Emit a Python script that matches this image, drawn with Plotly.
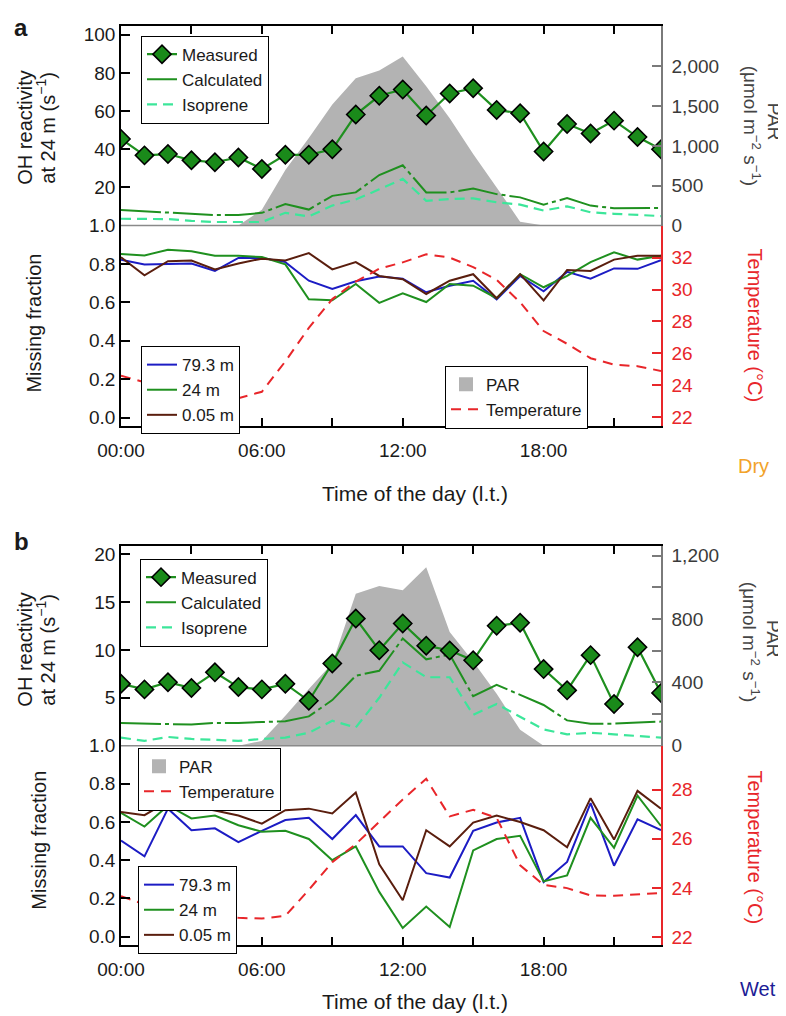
import plotly.graph_objects as go

# ---------------- data ----------------
hours = list(range(24))
x_tickvals = [0, 3, 6, 9, 12, 15, 18, 21]
x_ticktext = ["00:00", "", "06:00", "", "12:00", "", "18:00", ""]

# Panel a (dry season)
a_par = [0, 0, 0, 0, 0, 0, 200, 700, 1100, 1520, 1850, 1950, 2125, 1750, 1350, 900, 480, 50, 0, 0, 0, 0, 0, 0]
a_measured = [45.4, 36.8, 37.5, 34.2, 33.2, 35.7, 29.7, 37.1, 37.1, 40.0, 58.2, 68.0, 71.3, 57.7,
              69.2, 72.0, 60.6, 58.9, 38.8, 53.2, 48.3, 55.0, 46.4, 40.0]
a_calculated = [8.2, 7.5, 7.0, 6.2, 5.5, 5.5, 6.7, 11.3, 8.4, 15.6, 17.4, 26.5, 31.6, 17.4,
                17.4, 19.4, 16.5, 14.8, 11.0, 14.4, 10.5, 9.1, 9.1, 9.3]
a_isoprene = [3.6, 3.5, 3.4, 2.5, 1.9, 1.9, 1.9, 6.7, 4.8, 10.5, 13.7, 19.0, 24.5, 13.0,
              13.9, 14.3, 12.2, 11.0, 7.9, 10.1, 7.0, 6.2, 5.7, 5.0]
a_mf_793 = [0.823, 0.798, 0.800, 0.803, 0.764, 0.832, 0.832, 0.810, 0.713, 0.670, 0.710, 0.735,
            0.724, 0.653, 0.687, 0.713, 0.616, 0.738, 0.658, 0.759, 0.724, 0.777, 0.775, 0.820]
a_mf_24 = [0.852, 0.845, 0.874, 0.866, 0.843, 0.843, 0.836, 0.798, 0.616, 0.611, 0.696, 0.598,
           0.648, 0.602, 0.696, 0.687, 0.622, 0.747, 0.679, 0.738, 0.810, 0.861, 0.823, 0.843]
a_mf_005 = [0.835, 0.741, 0.815, 0.818, 0.772, 0.803, 0.828, 0.818, 0.857, 0.772, 0.810, 0.738,
            0.721, 0.644, 0.713, 0.747, 0.622, 0.747, 0.611, 0.769, 0.764, 0.823, 0.843, 0.843]
a_temp = [24.6, 24.2, 23.9, 23.6, 23.4, 23.2, 23.6, 25.5, 27.6, 29.4, 30.5, 31.3, 31.7, 32.2,
          32.0, 31.4, 30.6, 29.2, 27.4, 26.6, 25.7, 25.3, 25.2, 24.9]

# Panel b (wet season)
b_par = [0, 0, 0, 0, 0, 0, 30, 188, 357, 521, 960, 1008, 981, 1127, 717, 532, 327, 101, 0, 0, 0, 0, 0, 0]
b_measured = [6.46, 5.88, 6.63, 6.02, 7.66, 6.12, 5.88, 6.46, 4.69, 8.58, 13.28, 9.97, 12.77, 10.45,
              9.94, 8.92, 12.53, 12.84, 8.0, 5.78, 9.46, 4.35, 10.28, 5.51]
b_calculated = [2.37, 2.3, 2.28, 2.2, 2.37, 2.37, 2.47, 2.54, 3.06, 4.76, 7.31, 7.82, 11.2, 9.02,
                9.53, 5.16, 6.36, 5.27, 4.25, 2.64, 2.3, 2.3, 2.37, 2.51]
b_isoprene = [0.84, 0.5, 0.91, 0.7, 0.6, 0.5, 0.7, 0.84, 1.35, 2.6, 1.9, 5.0, 8.7, 7.15,
              7.15, 3.22, 4.35, 3.06, 1.69, 1.18, 1.35, 1.18, 1.01, 0.84]
b_mf_793 = [0.503, 0.42, 0.67, 0.557, 0.567, 0.494, 0.554, 0.61, 0.622, 0.511, 0.636, 0.472,
            0.472, 0.332, 0.309, 0.554, 0.597, 0.622, 0.286, 0.391, 0.699, 0.371, 0.614, 0.557]
b_mf_24 = [0.648, 0.576, 0.687, 0.619, 0.634, 0.583, 0.549, 0.554, 0.511, 0.4, 0.472, 0.234,
           0.045, 0.157, 0.05, 0.451, 0.511, 0.528, 0.289, 0.32, 0.622, 0.465, 0.738, 0.579]
b_mf_005 = [0.653, 0.636, 0.708, 0.682, 0.66, 0.634, 0.591, 0.662, 0.67, 0.645, 0.755, 0.378,
            0.19, 0.557, 0.472, 0.597, 0.634, 0.6, 0.557, 0.468, 0.725, 0.508, 0.763, 0.67]
b_temp = [23.66, 23.33, 23.1, 22.95, 22.85, 22.78, 22.75, 22.86, 23.92, 25.05, 25.78, 26.7, 27.6, 28.44,
          26.91, 27.18, 26.85, 24.92, 24.12, 23.99, 23.69, 23.68, 23.72, 23.79]

# ---------------- style ----------------
FONT = "Liberation Sans, Arial, Helvetica, sans-serif"
GREEN = "#1f901f"
MARK = "#1a8a1a"
ISO = "#3ce69a"
BLUE = "#1c1cc4"
BROWN = "#5a1e0e"
RED = "#e8262a"
GRAYFILL = "#b3b3b3"
PARAX = "#7a7a7a"
TXT = "#1a1a1a"

W, H = 786, 1016
ML, MR = 113, 133
PW = W - ML - MR


def px(x):
    return (x - ML) / PW


def py(y):
    return 1 - y / H


fig = go.Figure()


def add_panel(par, meas, calc, iso, m793, m24, m005, temp, ax, lg):
    fig.add_trace(go.Scatter(x=hours, y=par, name="PAR", mode="lines", fill="tozeroy",
                             fillcolor=GRAYFILL, line=dict(width=0, color=GRAYFILL),
                             showlegend=False, xaxis=ax["xt"], yaxis=ax["par"]))
    # legend entry for PAR (square swatch)
    fig.add_trace(go.Scatter(x=[None], y=[None], name="PAR", mode="markers",
                             marker=dict(symbol="square", size=14, color=GRAYFILL),
                             xaxis=ax["xt"], yaxis=ax["par"], legend=lg[2]))
    fig.add_trace(go.Scatter(x=hours, y=calc, name="Calculated", mode="lines",
                             line=dict(color=GREEN, width=2, dash="40px,4px,4px,4px"),
                             xaxis=ax["xt"], yaxis=ax["oh"], legend=lg[0], legendrank=2))
    fig.add_trace(go.Scatter(x=hours, y=iso, name="Isoprene", mode="lines",
                             line=dict(color=ISO, width=2.2, dash="10px,6px"),
                             xaxis=ax["xt"], yaxis=ax["oh"], legend=lg[0], legendrank=3))
    fig.add_trace(go.Scatter(x=hours, y=meas, name="Measured", mode="lines+markers",
                             line=dict(color=GREEN, width=2.2),
                             marker=dict(symbol="diamond", size=14, color=MARK,
                                         line=dict(color="black", width=1.6)),
                             xaxis=ax["xt"], yaxis=ax["oh"], legend=lg[0], legendrank=1))
    fig.add_trace(go.Scatter(x=hours, y=m793, name="79.3 m", mode="lines",
                             line=dict(color=BLUE, width=2), xaxis=ax["xb"], yaxis=ax["mf"], legend=lg[1]))
    fig.add_trace(go.Scatter(x=hours, y=m24, name="24 m", mode="lines",
                             line=dict(color=GREEN, width=2), xaxis=ax["xb"], yaxis=ax["mf"], legend=lg[1]))
    fig.add_trace(go.Scatter(x=hours, y=m005, name="0.05 m", mode="lines",
                             line=dict(color=BROWN, width=2), xaxis=ax["xb"], yaxis=ax["mf"], legend=lg[1]))
    fig.add_trace(go.Scatter(x=hours, y=temp, name="Temperature", mode="lines",
                             line=dict(color=RED, width=2, dash="10px,7px"),
                             xaxis=ax["xb"], yaxis=ax["tp"], legend=lg[2]))


add_panel(a_par, a_measured, a_calculated, a_isoprene, a_mf_793, a_mf_24, a_mf_005, a_temp,
          dict(xt="x", xb="x2", par="y", oh="y2", mf="y3", tp="y4"),
          ["legend", "legend2", "legend3"])
add_panel(b_par, b_measured, b_calculated, b_isoprene, b_mf_793, b_mf_24, b_mf_005, b_temp,
          dict(xt="x3", xb="x4", par="y5", oh="y6", mf="y7", tp="y8"),
          ["legend4", "legend5", "legend6"])

tickfont = dict(family=FONT, size=19, color=TXT)

a_top = [py(212), py(8.3)]
a_bot = [py(416.7), py(212)]
b_top = [py(743), py(539.3)]
b_bot = [py(946.7), py(743)]


def xtop(anchor):
    return dict(domain=[0, 1], anchor=anchor, side="top", range=[0, 23], tickvals=x_tickvals,
                showticklabels=False, ticks="inside", ticklen=8, tickwidth=1.5, tickcolor="black",
                showline=True, linecolor="black", linewidth=1.5, showgrid=False, zeroline=False)


def xbot(anchor):
    return dict(domain=[0, 1], anchor=anchor, side="bottom", range=[0, 23], tickvals=x_tickvals,
                ticktext=x_ticktext, ticks="inside", ticklen=8, tickwidth=1.5, tickcolor="black",
                showline=True, linecolor="black", linewidth=1.5, showgrid=False, zeroline=False,
                tickfont=tickfont, ticklabelstandoff=6)


def yleft(domain, anchor, rng, vals, text, overlay=None):
    d = dict(anchor=anchor, side="left", range=rng, tickvals=vals, ticktext=text,
             ticks="inside", ticklen=9, tickwidth=1.5, tickcolor="black",
             showline=True, linecolor="black", linewidth=1.5, showgrid=False, zeroline=False,
             tickfont=tickfont)
    if overlay:
        d["overlaying"] = overlay
    else:
        d["domain"] = domain
    return d


def yright(domain, anchor, rng, vals, text, color, lcolor, overlay=None):
    d = dict(anchor=anchor, side="right", range=rng, tickvals=vals, ticktext=text,
             ticks="inside", ticklen=9, tickwidth=1.5, tickcolor=lcolor,
             showline=True, linecolor=lcolor, linewidth=1.5, showgrid=False, zeroline=False,
             tickfont=dict(family=FONT, size=19, color=color), ticklabelstandoff=5)
    if overlay:
        d["overlaying"] = overlay
    else:
        d["domain"] = domain
    return d


mf_vals = [0, 0.2, 0.4, 0.6, 0.8, 1.0]
mf_text = ["0.0", "0.2", "0.4", "0.6", "0.8", "1.0"]

layout = dict(
    width=W, height=H, margin=dict(l=ML, r=MR, t=0, b=0),
    paper_bgcolor="white", plot_bgcolor="rgba(0,0,0,0)",
    font=dict(family=FONT, size=16, color=TXT),
    xaxis=xtop("y"), xaxis2=xbot("y3"), xaxis3=xtop("y5"), xaxis4=xbot("y7"),
    yaxis=yright(a_top, "x", [0, 2506], [0, 500, 1000, 1500, 2000],
                 ["0", "500", "1,000", "1,500", "2,000"], "#3a3a3a", PARAX),
    yaxis2=yleft(None, "x", [0, 104.5], [20, 40, 60, 80, 100], ["20", "40", "60", "80", "100"], overlay="y"),
    yaxis3=yleft(a_bot, "x2", [-0.044, 1.0], mf_vals, mf_text),
    yaxis4=yright(None, "x2", [21.45, 34.0], [22, 24, 26, 28, 30, 32],
                  ["22", "24", "26", "28", "30", "32"], RED, RED, overlay="y3"),
    yaxis5=yright(b_top, "x3", [0, 1260], [0, 200, 400, 600, 800, 1000, 1200],
                  ["0", " ", "400", " ", "800", " ", "1,200"], "#3a3a3a", PARAX),
    yaxis6=yleft(None, "x3", [0, 20.85], [5, 10, 15, 20], ["5", "10", "15", "20"], overlay="y5"),
    yaxis7=yleft(b_bot, "x4", [-0.045, 1.0], mf_vals, mf_text),
    yaxis8=yright(None, "x4", [21.67, 29.79], [22, 24, 26, 28],
                  ["22", "24", "26", "28"], RED, RED, overlay="y7"),
    showlegend=True,
)


def leg(x, y):
    return dict(x=px(x), y=py(y), xanchor="left", yanchor="top", bgcolor="white",
                bordercolor="black", borderwidth=1, font=dict(family=FONT, size=17, color=TXT),
                tracegroupgap=0, itemwidth=30, traceorder="normal")


layout["legend"] = leg(133, 18)
layout["legend2"] = leg(133, 335)
layout["legend3"] = leg(437, 355)
layout["legend4"] = leg(132, 552)
layout["legend5"] = leg(130, 866)
layout["legend6"] = leg(130, 745)

fig.update_layout(**layout)

# separator lines between upper and lower sub-panels
for yy in (212, 743):
    fig.add_shape(type="line", xref="paper", yref="paper", x0=0, x1=1, y0=py(yy), y1=py(yy),
                  line=dict(color="#8a8a8a", width=1.5))


def ann(text, x, y, size=20, color=TXT, angle=0, bold=False):
    fig.add_annotation(text=("<b>%s</b>" % text) if bold else text, x=px(x), y=py(y),
                       xref="paper", yref="paper", showarrow=False, textangle=angle,
                       xanchor="center", yanchor="middle",
                       font=dict(family=FONT, size=size, color=color))


ann("a", 13, 10, size=24, bold=True)
ann("b", 13, 535, size=24, bold=True)

# left titles
ann("OH reactivity", 17, 112, angle=-90)
ann("at 24 m (s<sup>−1</sup>)", 38, 112, angle=-90)
ann("Missing fraction", 26, 312, angle=-90)
ann("OH reactivity", 17, 645, angle=-90)
ann("at 24 m (s<sup>−1</sup>)", 38, 645, angle=-90)
ann("Missing fraction", 31, 840, angle=-90)

# right titles
ann("PAR", 766, 106, size=19, color="#444444", angle=90)
ann("(μmol m<sup>−2</sup> s<sup>−1</sup>)", 744, 110, size=19, color="#444444", angle=90)
ann("Temperature (°C)", 747, 314, color=RED, angle=90)
ann("PAR", 765, 634, size=19, color="#444444", angle=90)
ann("(μmol m<sup>−2</sup> s<sup>−1</sup>)", 743, 637, size=19, color="#444444", angle=90)
ann("Temperature (°C)", 747, 847, color=RED, angle=90)

# x titles
ann("Time of the day (l.t.)", 407, 486, size=21)
ann("Time of the day (l.t.)", 407, 1004, size=21)

ann("Dry", 745, 457, color="#f2a32a")
ann("Wet", 750, 992, color="#1c1c96")

fig.write_html("out.html")
